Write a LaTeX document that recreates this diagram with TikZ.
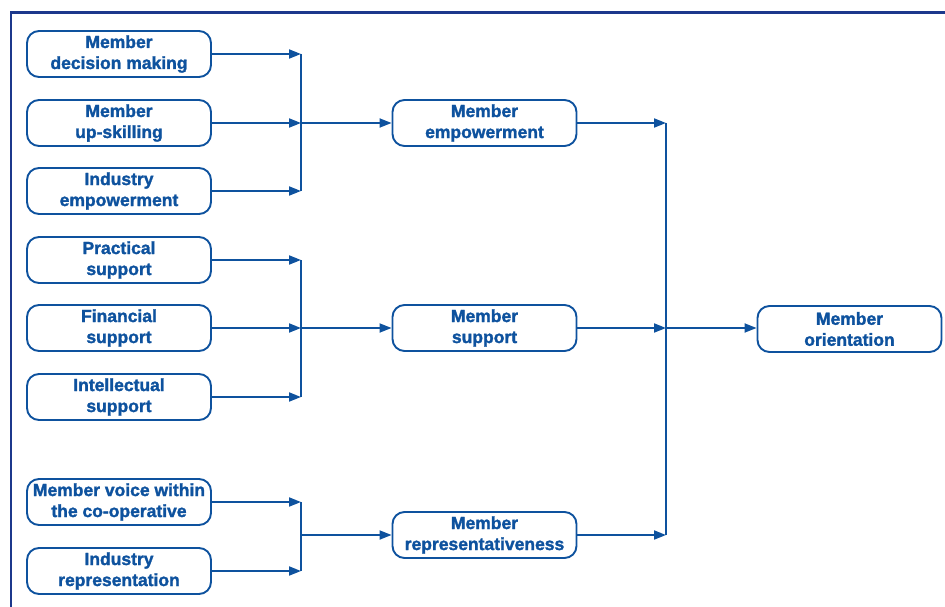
\documentclass[tikz,border=0pt]{standalone}
\usepackage{fontspec}
\setmainfont{Liberation Sans}
\newfontfamily\heavy[FakeBold=1.6]{Liberation Sans Bold}
\usetikzlibrary{arrows.meta}
\definecolor{boxblue}{RGB}{14,82,158}
\definecolor{navy}{RGB}{28,56,140}
\tikzset{
  box/.style={draw=boxblue, line width=1.9pt, rounded corners=12pt, minimum width=184pt, minimum height=46pt, inner sep=0pt, align=center, text=boxblue, font=\heavy\fontsize{17.5}{21}\selectfont},
  conn/.style={draw=boxblue, line width=1.9pt},
  arr/.style={conn, -{Triangle[length=12pt,width=9pt]}}
}
\begin{document}
\begin{tikzpicture}[x=1pt,y=-1pt]
\useasboundingbox (0,0) rectangle (945,607);
\draw[navy, line width=2.2pt] (11,607) -- (11,12.5) -- (945,12.5);
% left column
\node[box] (a1) at (119,54) {Member\\decision making};
\node[box] (a2) at (119,123) {Member\\up-skilling};
\node[box] (a3) at (119,191) {Industry\\empowerment};
\node[box] (b1) at (119,260) {Practical\\support};
\node[box] (b2) at (119,328) {Financial\\support};
\node[box] (b3) at (119,397) {Intellectual\\support};
\node[box] (c1) at (119,502) {Member voice within\\the co-operative};
\node[box] (c2) at (119,571) {Industry\\representation};
% middle
\node[box] (m1) at (484.5,123) {Member\\empowerment};
\node[box] (m2) at (484.5,328) {Member\\support};
\node[box] (m3) at (484.5,535) {Member\\representativeness};
% right
\node[box] (r) at (849.5,329) {Member\\orientation};
% junction coordinates
\coordinate (ja1) at (301,54);
\coordinate (ja2) at (301,123);
\coordinate (ja3) at (301,191);
\coordinate (jb1) at (301,260);
\coordinate (jb2) at (301,328);
\coordinate (jb3) at (301,397);
\coordinate (jc1) at (301,502);
\coordinate (jc2) at (301,571);
\coordinate (jc) at (301,535);
\coordinate (k1) at (666,123);
\coordinate (k2) at (666,328);
\coordinate (k3) at (666,535);
% group 1
\draw[arr] (a1.east|-ja1) -- (ja1);
\draw[arr] (a2.east|-ja2) -- (ja2);
\draw[arr] (a3.east|-ja3) -- (ja3);
\draw[conn] (ja1) -- (ja3);
\draw[arr] (ja2) -- (m1.west|-ja2);
% group 2
\draw[arr] (b1.east|-jb1) -- (jb1);
\draw[arr] (b2.east|-jb2) -- (jb2);
\draw[arr] (b3.east|-jb3) -- (jb3);
\draw[conn] (jb1) -- (jb3);
\draw[arr] (jb2) -- (m2.west|-jb2);
% group 3
\draw[arr] (c1.east|-jc1) -- (jc1);
\draw[arr] (c2.east|-jc2) -- (jc2);
\draw[conn] (jc1) -- (jc2);
\draw[arr] (jc) -- (m3.west|-jc);
% right
\draw[arr] (m1.east|-k1) -- (k1);
\draw[arr] (m2.east|-k2) -- (k2);
\draw[arr] (m3.east|-k3) -- (k3);
\draw[conn] (k1) -- (k3);
\draw[arr] (k2) -- (r.west|-k2);
\end{tikzpicture}
\end{document}
